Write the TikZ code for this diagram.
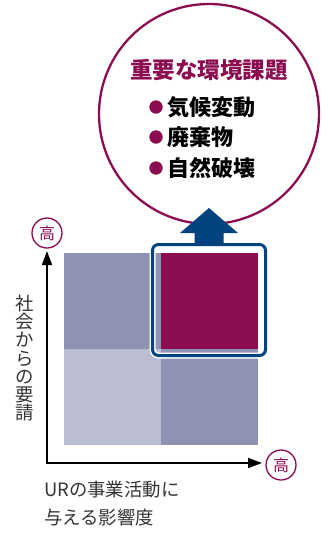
\documentclass[tikz,border=0pt]{standalone}
\usepackage{fontspec}
\setmainfont{Noto Sans CJK JP}
\usetikzlibrary{arrows.meta,calc}
\definecolor{mag}{HTML}{8C0C50}
\definecolor{navy}{HTML}{00437E}
\definecolor{qmid}{HTML}{8E92B4}
\definecolor{qlight}{HTML}{BBBDD3}
\definecolor{txt}{HTML}{333333}
\tikzset{
  quad/.style={rectangle, inner sep=0pt, outer sep=0pt, minimum width=97pt, minimum height=96pt, anchor=north west},
  hibadge/.style={circle, draw=mag, line width=1.3pt, minimum size=30pt, inner sep=0pt, text=mag, font=\fontsize{16}{16}\selectfont},
  lab/.style={inner sep=0pt, text=txt, font=\fontsize{18.4}{18.2}\selectfont},
  item/.style={inner sep=0pt, anchor=west, text=black, font=\bfseries\fontsize{22}{22}\selectfont},
  bul/.style={circle, fill=mag, inner sep=0pt, minimum size=13.4pt},
  axis/.style={line width=1.6pt, black, {Triangle[length=14pt,width=10pt]}-{Triangle[length=14pt,width=10pt]}}
}
\begin{document}
\begin{tikzpicture}[x=1pt,y=-1pt]
\useasboundingbox (0,0) rectangle (328,533);
% big circle
\node[circle, draw=mag, fill=white, line width=2.3pt, minimum size=220pt, inner sep=0pt] (bigc) at (209,114) {};
\node[inner sep=0pt, text=mag, font=\bfseries\fontsize{22.5}{22.5}\selectfont] (title) at (209,70) {重要な環境課題};
\node[bul] (b1) at (156,107) {};
\node[item] (t1) at (167,107) {気候変動};
\node[bul] (b2) at (156,137) {};
\node[item] (t2) at (167,137) {廃棄物};
\node[bul] (b3) at (156,168) {};
\node[item] (t3) at (167,168) {自然破壊};
% quadrants
\node[quad, fill=qmid] (q11) at (64,253) {};
\node[quad, fill=mag] (q12) at (161,253) {};
\node[quad, fill=qlight] (q21) at (64,349) {};
\node[quad, fill=qmid] (q22) at (161,349) {};
% highlight box
\node[draw=navy, line width=3pt, rounded corners=6pt, minimum width=113pt, minimum height=111pt, inner sep=0pt,
      preaction={draw=white, line width=6pt}] (hl) at (209,300) {};
% big arrow
\fill[navy] ($(hl.north)+(-14.5,1)$) -- ($(hl.north)+(-14.5,-10)$) -- ($(hl.north)+(-29,-10)$)
   -- ($(hl.north)+(0,-35)$) -- ($(hl.north)+(29,-10)$) -- ($(hl.north)+(14.5,-10)$)
   -- ($(hl.north)+(14.5,1)$) -- cycle;
% axes
\coordinate (origin) at (47,463);
\coordinate (ytip) at (47,251);
\coordinate (xtip) at (262,463);
\draw[axis] (ytip) -- (origin) -- (xtip);
\node[hibadge] (hiy) at (47,233) {高};
\node[hibadge] (hix) at (281,465) {高};
% labels
\node[lab, align=center] (ylab) at (25,358) {社\\会\\か\\ら\\の\\要\\請};
\node[lab, anchor=west] (xlab1) at (44,490) {URの事業活動に};
\node[lab, anchor=west] (xlab2) at (44,518) {与える影響度};
\end{tikzpicture}
\end{document}
